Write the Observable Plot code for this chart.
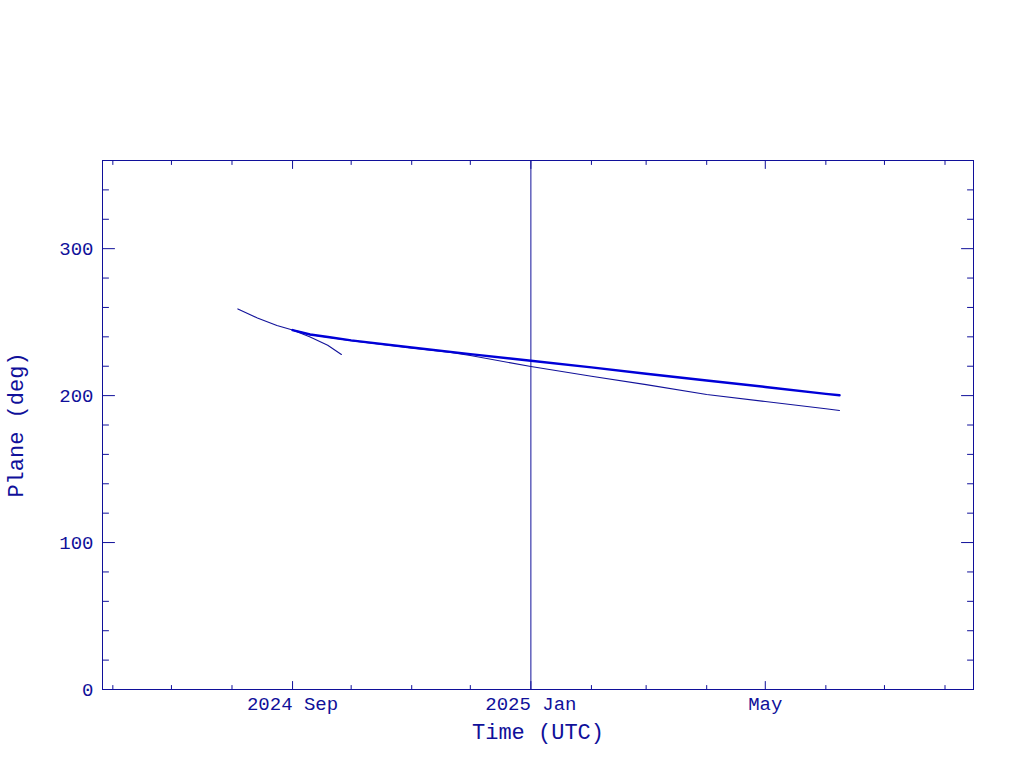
<!DOCTYPE html>
<html>
<head>
<meta charset="utf-8">
<script src="https://cdn.jsdelivr.net/npm/d3@7"></script>
<script src="https://cdn.jsdelivr.net/npm/@observablehq/plot@0.6"></script>
<style>
  html, body { margin: 0; padding: 0; background: #ffffff; }
</style>
</head>
<body>
<div id="chart"></div>
<script>
// ---- data ----
const xDomain = ["2024-05-26T17:00Z", "2025-08-15T14:00Z"];
const yDomain = [0, 360];

const shortDates = ["2024-08-04", "2024-08-14", "2024-08-24", "2024-09-01", "2024-09-10", "2024-09-19", "2024-09-26"];
const shortValues = [259.0, 252.8, 247.7, 244.6, 239.9, 234.3, 228.0];

const thickDates = ["2024-09-01", "2024-09-10", "2024-09-20", "2024-10-01", "2024-11-01", "2024-12-01", "2025-01-01", "2025-02-01", "2025-03-01", "2025-04-01", "2025-05-01", "2025-06-01", "2025-06-08"];
const thickValues = [244.6, 241.6, 239.7, 237.6, 232.7, 228.2, 223.7, 219.2, 214.9, 210.3, 205.9, 201.2, 200.2];

const thinDates = ["2024-09-01", "2024-09-10", "2024-09-20", "2024-10-01", "2024-11-01", "2024-11-21", "2024-12-01", "2025-01-01", "2025-02-01", "2025-03-01", "2025-04-01", "2025-05-01", "2025-06-01", "2025-06-08"];
const thinValues = [244.6, 241.5, 239.5, 237.4, 232.4, 229.4, 227.3, 219.8, 213.2, 207.5, 200.8, 196.0, 191.1, 189.9];

const markerDate = ["2025-01-01"];

const xMajorTicks = ["2024-09-01", "2025-01-01", "2025-05-01"];
const xMajorLabels = ["2024 Sep", "2025 Jan", "May"];
const xMinorTicks = ["2024-06-01", "2024-07-01", "2024-08-01", "2024-10-01", "2024-11-01", "2024-12-01", "2025-02-01", "2025-03-01", "2025-04-01", "2025-06-01", "2025-07-01", "2025-08-01"];
const yMajorTicks = [0, 100, 200, 300];
const yMajorLabels = ["0", "100", "200", "300"];
const yMinorTicks = [20, 40, 60, 80, 120, 140, 160, 180, 220, 240, 260, 280, 320, 340];

const xLabel = "Time (UTC)";
const yLabel = "Plane (deg)";

// ---- build ----
const dt = s => new Date(s.length === 10 ? s + "T00:00Z" : s);
const series = (dates, values) => dates.map((d, i) => ({date: dt(d), value: values[i]}));
const shortData = series(shortDates, shortValues);
const thickData = series(thickDates, thickValues);
const thinData = series(thinDates, thinValues);

const axisColor = "#10109a";
const font = "Liberation Mono";

const line = {draw(context, l) { context.moveTo(0, 0); context.lineTo(0, -l); }};
const tickV = (data, opts) => Plot.vector(data, {anchor: "start", shape: line, stroke: axisColor, fill: "none", strokeWidth: 1, ...opts});

const xMaj = xMajorTicks.map(dt);
const xMin = xMinorTicks.map(dt);

const chart = Plot.plot({
  width: 1024,
  height: 768,
  marginLeft: 102,
  marginRight: 51,
  marginTop: 160,
  marginBottom: 79,
  x: {type: "utc", domain: xDomain.map(dt), axis: null},
  y: {type: "linear", domain: yDomain, axis: null},
  style: {background: "#ffffff", fontFamily: font},
  marks: [
    Plot.frame({stroke: axisColor, strokeWidth: 1}),
    // bottom ticks
    tickV(xMin, {x: d => d, frameAnchor: "bottom", rotate: 0, length: 4}),
    tickV(xMaj, {x: d => d, frameAnchor: "bottom", rotate: 0, length: 8}),
    // top ticks
    tickV(xMin, {x: d => d, frameAnchor: "top", rotate: 180, length: 4}),
    tickV(xMaj, {x: d => d, frameAnchor: "top", rotate: 180, length: 8}),
    // left ticks
    tickV(yMinorTicks, {y: d => d, frameAnchor: "left", rotate: 90, length: 6}),
    tickV(yMajorTicks, {y: d => d, frameAnchor: "left", rotate: 90, length: 12}),
    // right ticks
    tickV(yMinorTicks, {y: d => d, frameAnchor: "right", rotate: -90, length: 6}),
    tickV(yMajorTicks, {y: d => d, frameAnchor: "right", rotate: -90, length: 12}),
    // tick labels
    Plot.text(xMaj, {x: d => d, text: (d, i) => xMajorLabels[i], frameAnchor: "bottom", dy: 14, lineAnchor: "middle", textAnchor: "middle", fill: axisColor, fontSize: 19, fontFamily: font, ariaLabel: "ticklabel"}),
    Plot.text(yMajorTicks, {y: d => d, text: (d, i) => yMajorLabels[i], frameAnchor: "left", dx: -9, textAnchor: "end", lineAnchor: "middle", fill: axisColor, fontSize: 19, fontFamily: font, ariaLabel: "ticklabel"}),
    // axis titles
    Plot.text([xLabel], {text: d => d, frameAnchor: "bottom", dy: 42, lineAnchor: "middle", textAnchor: "middle", fill: axisColor, fontSize: 22, fontFamily: font, ariaLabel: "title"}),
    Plot.text([yLabel], {text: d => d, frameAnchor: "left", dx: -87, rotate: -90, lineAnchor: "middle", textAnchor: "middle", fill: axisColor, fontSize: 22, fontFamily: font, ariaLabel: "title"}),
    // data
    Plot.ruleX(markerDate.map(dt), {stroke: axisColor, strokeWidth: 1}),
    Plot.line(shortData, {x: "date", y: "value", stroke: "#12129a", strokeWidth: 1.1}),
    Plot.line(thinData, {x: "date", y: "value", stroke: "#12129a", strokeWidth: 1.1}),
    Plot.line(thickData, {x: "date", y: "value", stroke: "#0000d8", strokeWidth: 2.4})
  ]
});

d3.select(chart).selectAll('g[aria-label="ticklabel"] text').attr("letter-spacing", "-0.6px");
d3.select(chart).selectAll('g[aria-label="title"] text').attr("letter-spacing", "-0.8px");

document.getElementById("chart").appendChild(chart);
</script>
</body>
</html>
